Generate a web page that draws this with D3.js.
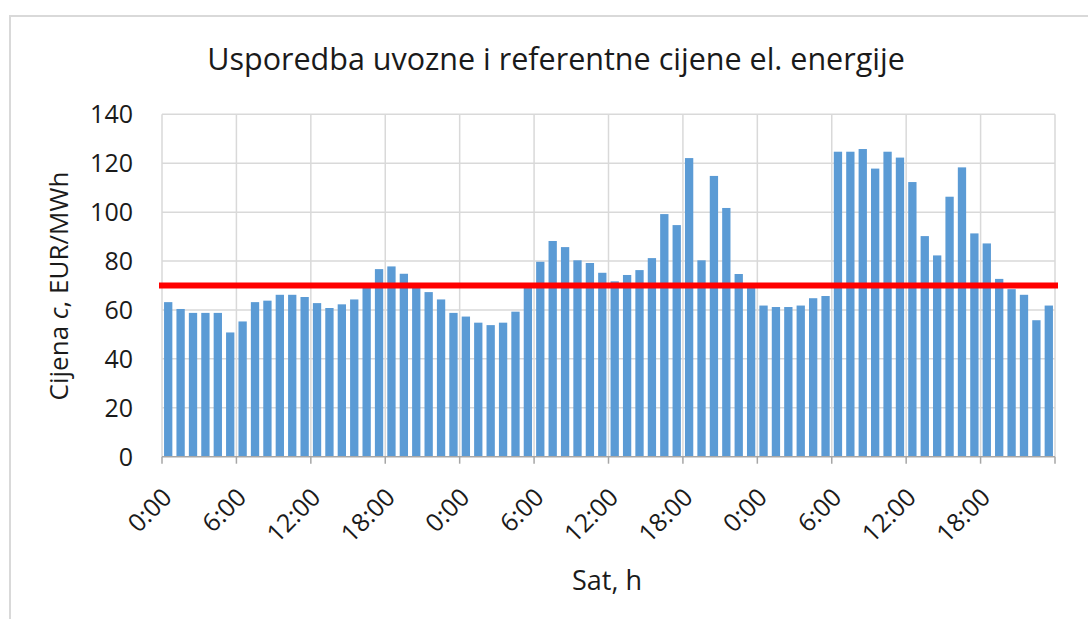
<!DOCTYPE html>
<html>
<head>
<meta charset="utf-8">
<script src="https://cdn.jsdelivr.net/npm/d3@7"></script>
<style>
  html, body { margin: 0; padding: 0; background: #fff; }
  svg { display: block; }
  text { font-family: "Open Sans", sans-serif; fill: #1a1a1a; }
</style>
</head>
<body>
<svg id="chart" width="1088" height="619"></svg>
<script>
// ---- data ----
const hours = d3.range(72);
const prices = [
  63.2, 60.4, 58.8, 58.8, 58.8, 50.8, 55.3, 63.2, 63.8, 66.2, 66.2, 65.3,
  62.8, 60.8, 62.3, 64.3, 69.0, 76.7, 77.8, 74.8, 69.0, 67.3, 64.3, 58.8,
  57.3, 54.8, 53.8, 54.8, 59.3, 69.0, 79.7, 88.2, 85.7, 80.3, 79.2, 75.2,
  71.7, 74.3, 76.3, 81.2, 99.2, 94.7, 122.1, 80.3, 114.8, 101.7, 74.7, 69.0,
  61.8, 61.2, 61.2, 61.8, 64.8, 65.7, 124.7, 124.7, 125.8, 117.8, 124.7, 122.3,
  112.3, 90.2, 82.3, 106.3, 118.3, 91.3, 87.2, 72.7, 68.5, 66.2, 55.8, 61.8
];
const referencePrice = 70;
const yTicks = [0, 20, 40, 60, 80, 100, 120, 140];
const xTickHours = [0, 6, 12, 18, 24, 30, 36, 42, 48, 54, 60, 66];
const xTickLabels = ["0:00", "6:00", "12:00", "18:00", "0:00", "6:00", "12:00", "18:00", "0:00", "6:00", "12:00", "18:00"];
const title = "Usporedba uvozne i referentne cijene el. energije";

// ---- layout ----
const svg = d3.select("#chart");
const L = 162, R = 1055, T = 114.3, B = 456.7;

const x = d3.scaleBand().domain(hours).range([L, R]).paddingInner(0.33).paddingOuter(0.165);
const xb = d3.scaleLinear().domain([0, 72]).range([L, R]);
const y = d3.scaleLinear().domain([0, 140]).range([B, T]);

// chart frame
svg.append("rect").attr("x", 10).attr("y", 16).attr("width", 1100).attr("height", 620)
  .attr("fill", "none").attr("stroke", "#d9d9d9").attr("stroke-width", 2);

// horizontal gridlines
svg.append("g").selectAll("line").data(yTicks.filter(d => d > 0)).join("line")
  .attr("x1", L).attr("x2", R)
  .attr("y1", d => y(d)).attr("y2", d => y(d))
  .attr("stroke", "#d9d9d9").attr("stroke-width", 1.5);

// vertical gridlines
svg.append("g").selectAll("line").data(xTickHours.concat([72])).join("line")
  .attr("x1", d => xb(d)).attr("x2", d => xb(d))
  .attr("y1", T).attr("y2", B)
  .attr("stroke", "#d9d9d9").attr("stroke-width", 1.5);

// bars
svg.append("g").selectAll("rect").data(hours).join("rect")
  .attr("x", d => x(d))
  .attr("width", x.bandwidth())
  .attr("y", d => y(prices[d]))
  .attr("height", d => y(0) - y(prices[d]))
  .attr("fill", "#5b9bd5");

// reference line
svg.append("line")
  .attr("x1", L - 3).attr("x2", R + 3)
  .attr("y1", y(referencePrice)).attr("y2", y(referencePrice))
  .attr("stroke", "#ff0000").attr("stroke-width", 6);

// x axis line + ticks
svg.append("line").attr("x1", L).attr("x2", R).attr("y1", B).attr("y2", B)
  .attr("stroke", "#a6a6a6").attr("stroke-width", 1.5);
svg.append("g").selectAll("line").data(xTickHours.concat([72])).join("line")
  .attr("x1", d => xb(d)).attr("x2", d => xb(d))
  .attr("y1", B).attr("y2", B + 7)
  .attr("stroke", "#a6a6a6").attr("stroke-width", 1.5);

// x tick labels
svg.append("g").selectAll("text").data(xTickHours).join("text")
  .attr("transform", d => `translate(${x(d) + x.bandwidth() / 2 - 1},${B + 36}) rotate(-45)`)
  .attr("text-anchor", "end")
  .attr("dy", "0.35em")
  .style("font-size", "25px")
  .text((d, i) => xTickLabels[i]);

// y tick labels
svg.append("g").selectAll("text").data(yTicks).join("text")
  .attr("x", 133).attr("y", d => y(d))
  .attr("text-anchor", "end").attr("dy", "0.36em")
  .style("font-size", "25px")
  .text(d => d);

// title
svg.append("text").attr("x", 556).attr("y", 70)
  .attr("text-anchor", "middle").style("font-size", "30.5px")
  .text(title);

// axis titles
svg.append("text").attr("x", 607).attr("y", 590)
  .attr("text-anchor", "middle").style("font-size", "27px")
  .text("Sat, h");

const yt = svg.append("text")
  .attr("transform", `translate(68,286) rotate(-90)`)
  .attr("text-anchor", "middle").style("font-size", "26px");
yt.append("tspan").text("Cijena ");
yt.append("tspan").style("font-style", "italic").text("c");
yt.append("tspan").text(", EUR/MWh");
</script>
</body>
</html>
